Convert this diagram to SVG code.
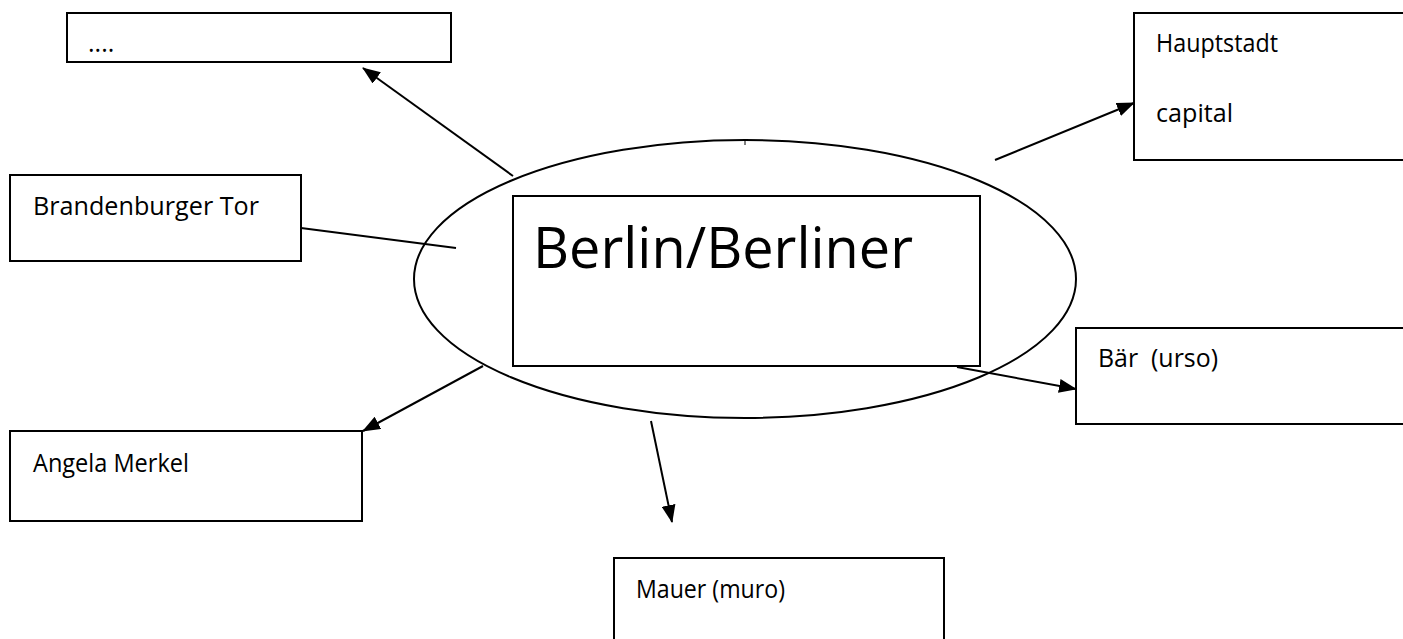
<svg xmlns="http://www.w3.org/2000/svg" width="1403" height="639" viewBox="0 0 1403 639">
  <style>
    .box { fill: #fff; stroke: #000; stroke-width: 2; }
    .lbl { font-family: "Open Sans", "Liberation Sans", sans-serif; font-size: 25px; fill: #000; }
    .big { font-family: "Open Sans", "Liberation Sans", sans-serif; font-size: 57px; fill: #000; }
    .con { fill: none; stroke: #000; stroke-width: 2; }
  </style>
  <defs>
    <marker id="arrow" markerWidth="18" markerHeight="14" refX="17" refY="7" orient="auto" markerUnits="userSpaceOnUse">
      <path d="M0,0 L18,7 L0,14 Z" fill="#000"/>
    </marker>
  </defs>
  <rect width="1403" height="639" fill="#fff"/>

  <!-- central hub -->
  <g id="center">
    <ellipse cx="745" cy="279" rx="331" ry="139" fill="none" stroke="#000" stroke-width="2"/>
    <line x1="745" y1="140" x2="745" y2="145" stroke="#000" stroke-width="1"/>
    <rect class="box" x="513" y="196" width="467" height="170"/>
    <text class="big" x="533" y="268" textLength="380" lengthAdjust="spacingAndGlyphs">Berlin/Berliner</text>
  </g>

  <!-- surrounding nodes -->
  <g id="node-dots">
    <rect class="box" x="67" y="13" width="384" height="49"/>
    <text class="lbl" x="88" y="52">....</text>
  </g>
  <g id="node-hauptstadt">
    <rect class="box" x="1134" y="13" width="280" height="147"/>
    <text class="lbl" x="1156" y="52" textLength="122" lengthAdjust="spacingAndGlyphs">Hauptstadt</text>
    <text class="lbl" x="1156" y="122" textLength="77" lengthAdjust="spacingAndGlyphs">capital</text>
  </g>
  <g id="node-tor">
    <rect class="box" x="10" y="175" width="291" height="86"/>
    <text class="lbl" x="33" y="215" textLength="226" lengthAdjust="spacingAndGlyphs">Brandenburger Tor</text>
  </g>
  <g id="node-baer">
    <rect class="box" x="1076" y="328" width="340" height="96"/>
    <text class="lbl" x="1098" y="367" xml:space="preserve" textLength="120" lengthAdjust="spacingAndGlyphs">Bär  (urso)</text>
  </g>
  <g id="node-merkel">
    <rect class="box" x="10" y="431" width="352" height="90"/>
    <text class="lbl" x="33" y="472" textLength="156" lengthAdjust="spacingAndGlyphs">Angela Merkel</text>
  </g>
  <g id="node-mauer">
    <rect class="box" x="614" y="558" width="330" height="90"/>
    <text class="lbl" x="636" y="598" textLength="149" lengthAdjust="spacingAndGlyphs">Mauer (muro)</text>
  </g>

  <!-- connectors -->
  <g id="connectors">
    <line class="con" x1="513" y1="176" x2="363" y2="68" marker-end="url(#arrow)"/>
    <line class="con" x1="995" y1="160" x2="1134" y2="103" marker-end="url(#arrow)"/>
    <line class="con" x1="301" y1="228" x2="456" y2="248"/>
    <line class="con" x1="957" y1="367" x2="1076" y2="389" marker-end="url(#arrow)"/>
    <line class="con" x1="483" y1="366" x2="363" y2="431" marker-end="url(#arrow)"/>
    <line class="con" x1="651" y1="421" x2="672" y2="522" marker-end="url(#arrow)"/>
  </g>
</svg>
